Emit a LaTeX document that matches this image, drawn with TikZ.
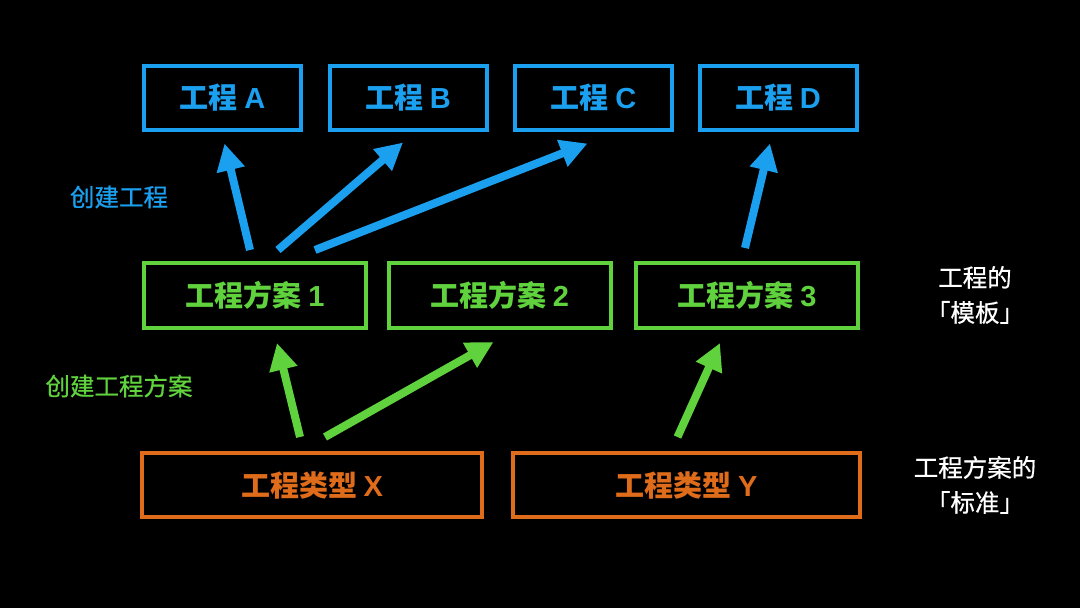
\documentclass[tikz,border=0pt]{standalone}
\usepackage{fontspec}
\setmainfont{Noto Sans CJK SC}
\newfontfamily\cjk{Noto Sans CJK SC}
\newfontfamily\cjkmed[FakeBold=0.6]{Noto Sans CJK SC}
\newfontfamily\lat{Liberation Sans}
\usetikzlibrary{arrows.meta,calc}
\definecolor{cblue}{RGB}{27,160,240}
\definecolor{cgreen}{RGB}{96,210,62}
\definecolor{corange}{RGB}{222,108,26}
\tikzset{
  box/.style={draw, line width=4pt, inner sep=0pt, font=\cjk\bfseries\fontsize{29}{32}\selectfont},
  bluebox/.style={box, draw=cblue, text=cblue, minimum width=157pt, minimum height=64pt},
  greenbox/.style={box, draw=cgreen, text=cgreen, minimum width=222pt, minimum height=65pt},
  orangebox/.style={box, draw=corange, text=corange, minimum height=64pt},
  arr/.style={line width=8pt, -{Triangle[length=27pt,width=27pt]}},
  note/.style={font=\cjkmed\fontsize{24.5}{35}\selectfont, align=center, inner sep=0pt},
}
\newcommand{\lt}[1]{{\lat\bfseries #1}}
\begin{document}
\begin{tikzpicture}[x=1pt,y=-1pt]
\fill[black] (0,0) rectangle (1080,608);
\useasboundingbox (0,0) rectangle (1080,608);
% top row
\node[bluebox] (a) at (222.5,97.5) {工程 \lt{A}};
\node[bluebox] (b) at (408,97.5) {工程 \lt{B}};
\node[bluebox] (c) at (593.5,97.5) {工程 \lt{C}};
\node[bluebox] (d) at (778,97.5) {工程 \lt{D}};
% middle row
\node[greenbox] (p1) at (255,295.5) {工程方案 \lt{1}};
\node[greenbox] (p2) at (499.5,295.5) {工程方案 \lt{2}};
\node[greenbox] (p3) at (747,295.5) {工程方案 \lt{3}};
% bottom row
\node[orangebox, minimum width=340pt] (x) at (312,485) {工程类型 \lt{X}};
\node[orangebox, minimum width=347pt] (y) at (686.5,485) {工程类型 \lt{Y}};
% labels
\node[note, text=cblue] (l1) at (119,197) {创建工程};
\node[note, text=cgreen] (l2) at (119,386) {创建工程方案};
\node[note, text=white] (l3) at (975,295) {工程的\\「模板」};
\node[note, text=white] (l4) at (975,485) {工程方案的\\「标准」};
% blue arrows
\draw[arr, cblue] ($(p1.north)+(-5,-11)$) -- ($(a.south)+(2,12)$);
\draw[arr, cblue] ($(p1.north)+(23,-11)$) -- ($(b.south)+(-5,11)$);
\draw[arr, cblue] ($(p1.north)+(60,-11)$) -- ($(c.south)+(-6,12)$);
\draw[arr, cblue] ($(p3.north)+(-2,-13)$) -- ($(d.south)+(-8,12)$);
% green arrows
\draw[arr, cgreen] ($(x.north)+(-12,-14)$) -- ($(p1.south)+(22,13)$);
\draw[arr, cgreen] ($(x.north)+(13,-14)$) -- ($(p2.south)+(-6,12)$);
\draw[arr, cgreen] ($(y.north)+(-9,-14)$) -- ($(p3.south)+(-27,13)$);
\end{tikzpicture}
\end{document}
